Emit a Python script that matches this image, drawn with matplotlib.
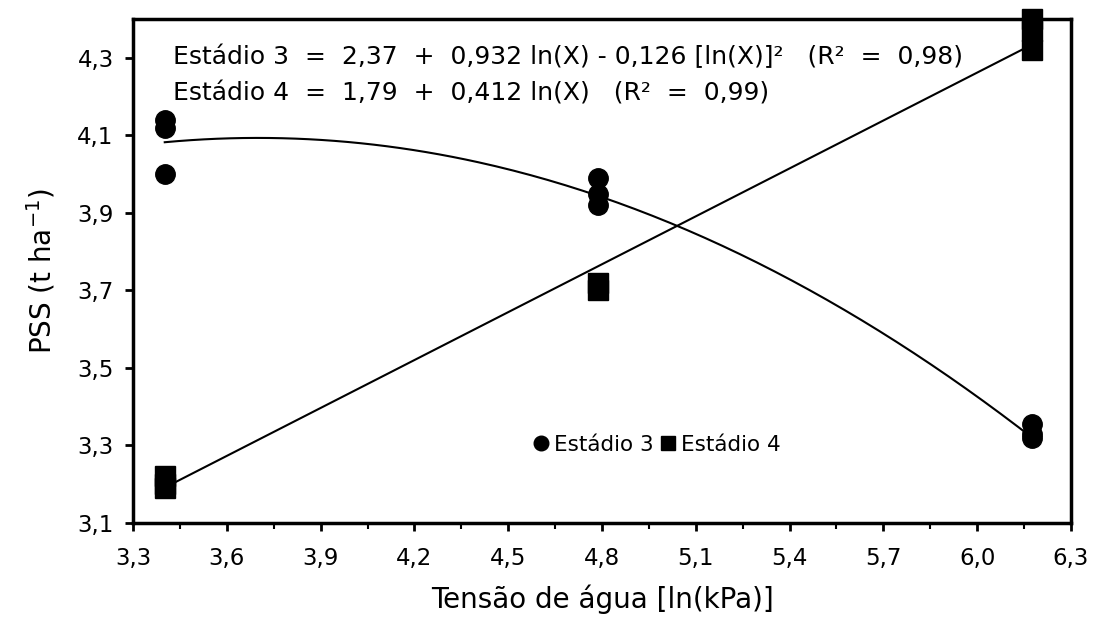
import numpy as np
import matplotlib
matplotlib.use('Agg')
import matplotlib.pyplot as plt
from matplotlib.ticker import FuncFormatter, MultipleLocator, FixedLocator

plt.rcParams['font.family'] = ['DejaVu Sans']
plt.rcParams['mathtext.default'] = 'regular'

# tensao de agua (ln kPa) dos tres niveis
x_levels = [np.log(30), np.log(120), np.log(480)]

# Estadio 3 (circulos)
est3_x = [x_levels[0]] * 3 + [x_levels[1]] * 3 + [x_levels[2]] * 3
est3_y = [4.14, 4.12, 4.00, 3.99, 3.95, 3.92, 3.355, 3.33, 3.32]

# Estadio 4 (quadrados)
est4_x = [x_levels[0]] * 3 + [x_levels[1]] * 2 + [x_levels[2]] * 3
est4_y = [3.22, 3.20, 3.19, 3.72, 3.70, 4.40, 4.37, 4.32]

# coeficientes das regressoes
coef3 = [2.37, 0.932, -0.126]
coef4 = [1.79, 0.412]

eq3 = 'Estádio 3  =  2,37  +  0,932 ln(X) - 0,126 [ln(X)]²   (R²  =  0,98)'
eq4 = 'Estádio 4  =  1,79  +  0,412 ln(X)   (R²  =  0,99)'
yticks = [3.1, 3.3, 3.5, 3.7, 3.9, 4.1, 4.3]

fig = plt.figure(figsize=(11, 6.37), dpi=100)
ax = fig.add_axes([0.121, 0.179, 0.8526, 0.791])

xx = np.linspace(x_levels[0], x_levels[2], 200)
ax.plot(xx, coef3[0] + coef3[1] * xx + coef3[2] * xx ** 2, color='black', lw=1.5)
ax.plot(xx, coef4[0] + coef4[1] * xx, color='black', lw=1.5)

ax.plot(est3_x, est3_y, 'o', color='black', ms=14, ls='none', clip_on=False, zorder=5,
        label='Estádio 3')
ax.plot(est4_x, est4_y, 's', color='black', ms=14, ls='none', clip_on=False, zorder=5,
        label='Estádio 4')

ax.set_xlim(3.3, 6.3)
ax.set_ylim(3.1, 4.4)
ax.xaxis.set_major_locator(MultipleLocator(0.3))
ax.xaxis.set_minor_locator(MultipleLocator(0.15))
ax.yaxis.set_major_locator(FixedLocator(yticks))
fmt = FuncFormatter(lambda v, p: ('%.1f' % v).replace('.', ','))
ax.xaxis.set_major_formatter(fmt)
ax.yaxis.set_major_formatter(fmt)

for s in ax.spines.values():
    s.set_linewidth(2.5)
ax.tick_params(which='major', direction='out', length=6, width=2, labelsize=16.5, pad=8)
ax.tick_params(axis='x', which='major', pad=11)
ax.tick_params(which='minor', direction='out', length=4, width=1.5)

ax.set_xlabel('Tensão de água [ln(kPa)]', fontsize=20, labelpad=11)
ax.set_ylabel('PSS (t ha$^{-1}$)', fontsize=20, labelpad=14)

ax.text(0.043, 0.925, eq3, transform=ax.transAxes, fontsize=18, va='center')
ax.text(0.043, 0.853, eq4, transform=ax.transAxes, fontsize=18, va='center')

ax.legend(loc='center', bbox_to_anchor=(0.557, 0.155), ncol=2, frameon=False, fontsize=15.5,
          handletextpad=0.1, columnspacing=0.2, handlelength=1.0, markerscale=0.75)

fig.savefig('out.png', dpi=100)
